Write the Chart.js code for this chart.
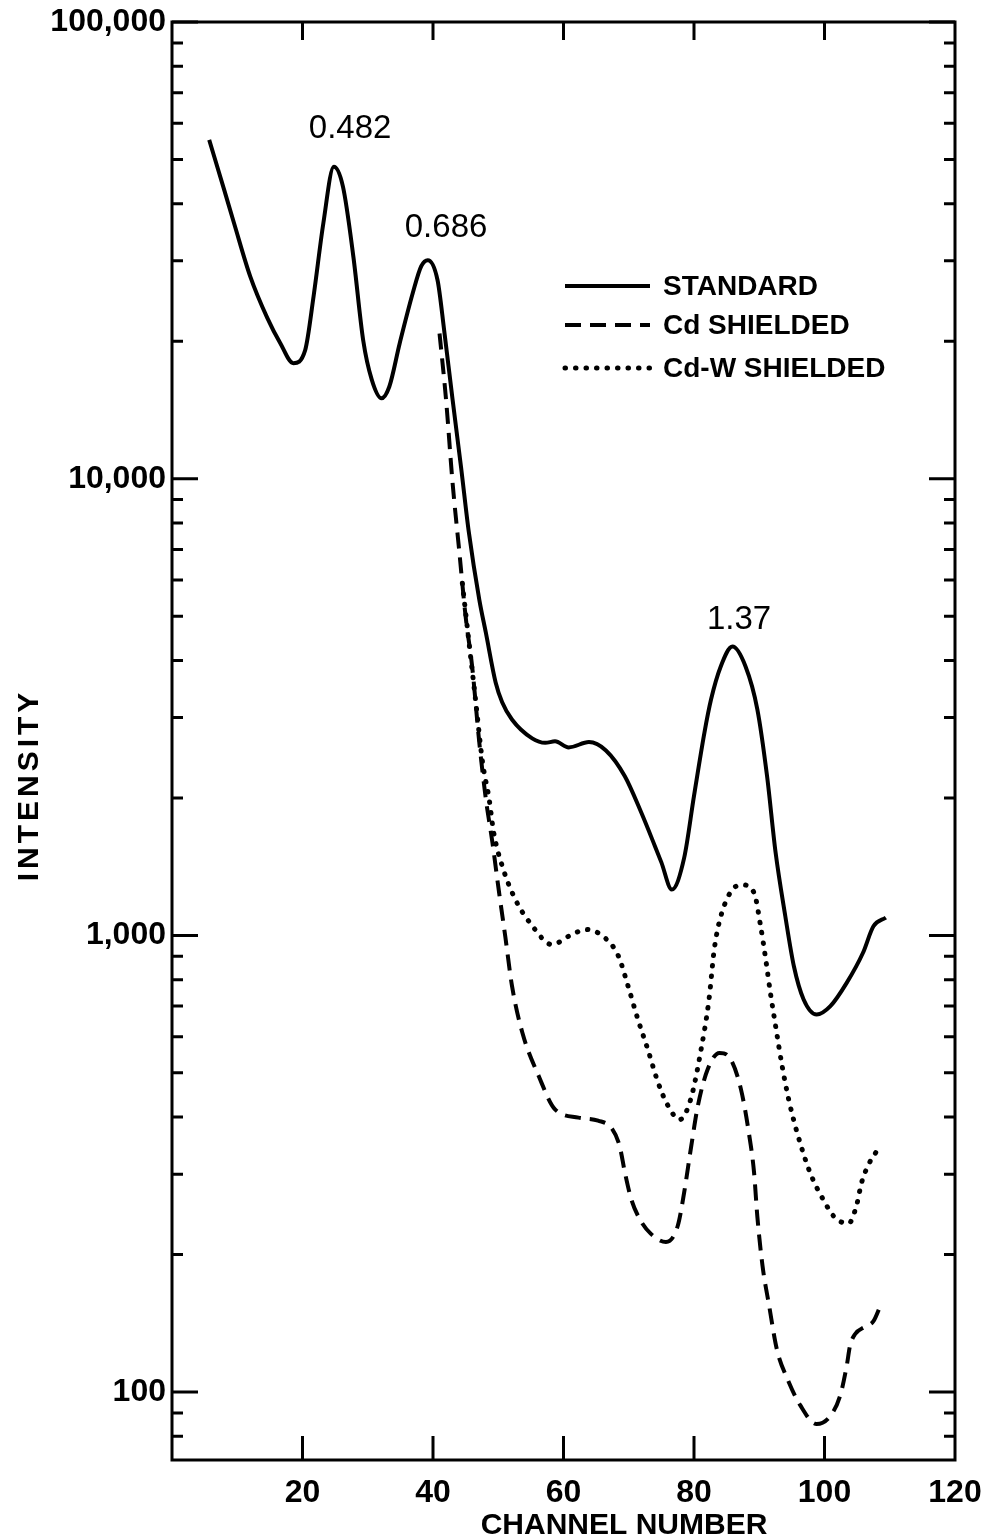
<!DOCTYPE html>
<html>
<head>
<meta charset="utf-8">
<script src="https://cdn.jsdelivr.net/npm/chart.js@4"></script>
<style>
  html, body { margin: 0; padding: 0; background: #fff; }
  #wrap { width: 985px; height: 1540px; position: relative; }
</style>
</head>
<body>
<div id="wrap"><canvas id="spectrum"></canvas></div>
<script>
// values (channel number / intensity)
const stdChannel = [5.7, 8.0, 9.5, 12.0, 14.6, 16.6, 18.6, 20.4, 21.7, 23.2, 24.8, 26.2, 27.8, 29.3, 30.6, 32.1, 33.3, 34.9, 36.9, 38.2,
  39.2, 40.7, 41.7, 43.0, 44.3, 45.5, 47.1, 48.1, 49.6, 50.6, 52.1, 55.2, 57.2, 58.7, 60.8, 63.9, 66.5, 69.4, 71.9, 74.0,
  75.0, 76.6, 78.5, 80.0, 81.6, 82.6, 84.1, 85.9, 87.9, 89.7, 91.2, 92.5, 94.0, 95.3, 96.8, 98.8, 100.9, 103.4, 105.9, 107.5, 109.4];
const stdIntensity = [55200, 42900, 36300, 27700, 22500, 19800, 17900, 19100, 25100, 36300, 48200, 43600, 30600, 20100, 16500, 15000, 15900, 19800, 25500, 29200,
  30100, 27200, 21200, 14900, 10600, 7620, 5430, 4600, 3580, 3240, 2970, 2700, 2640, 2660, 2580, 2650, 2540, 2230, 1860, 1570,
  1445, 1260, 1480, 2020, 2780, 3280, 3880, 4290, 3880, 3130, 2230, 1520, 1100, 857, 724, 671, 700, 787, 916, 1047, 1094];

const cdChannel = [41.0, 42.0, 43.0, 44.0, 45.0, 46.0, 47.1, 48.1, 49.1, 50.1, 51.1, 52.1, 53.7, 56.2, 58.7, 62.3, 65.3, 67.4, 68.6, 69.4,
  70.4, 71.7, 73.4, 75.7, 77.5, 78.5, 79.5, 80.6, 82.1, 83.9, 85.6, 87.2, 88.4, 89.2, 89.7, 90.5, 91.5, 92.7, 94.3, 96.3,
  98.8, 100.9, 102.4, 103.4, 103.9, 104.7, 106.2, 107.5, 108.6];
const cdIntensity = [20800, 14900, 9790, 7000, 4990, 3880, 2640, 1990, 1600, 1250, 989, 776, 612, 492, 416, 399, 393, 378, 346, 303,
  264, 239, 222, 213, 231, 274, 340, 424, 509, 553, 536, 460, 370, 303, 243, 189, 155, 124, 107, 93.5,
  85.1, 88.7, 98.2, 114, 126, 134, 139, 143, 155];

const cdwChannel = [44.5, 45.5, 46.5, 47.6, 48.6, 49.3, 50.6, 52.6, 55.2, 58.2, 61.3, 63.5, 66.3, 68.4, 69.9, 71.4, 72.9, 74.5, 76.0, 77.8,
  79.5, 81.1, 82.3, 83.1, 84.1, 86.4, 87.4, 89.2, 90.2, 91.0, 91.7, 92.5, 93.5, 94.5, 95.8, 97.8, 99.8, 101.6, 103.7, 104.9,
  105.7, 106.9, 108.0];
const cdwIntensity = [5900, 4400, 3300, 2390, 1990, 1680, 1420, 1200, 1050, 955, 1005, 1030, 989, 902, 774, 655, 564, 476, 424, 395,
  438, 564, 724, 931, 1100, 1280, 1290, 1240, 1050, 885, 750, 634, 518, 438, 370, 302, 264, 241, 234, 256,
  288, 318, 337];

const seriesNames = ['STANDARD', 'Cd SHIELDED', 'Cd-W SHIELDED'];

// peak energy labels (MeV)
const peakLabels = ['0.482', '0.686', '1.37'];
const peakChannel = [27.3, 42.0, 86.9];
const peakIntensity = [55700, 33900, 4680];

const xTickValues = [20, 40, 60, 80, 100, 120];
const yTickValues = [80, 90, 100, 200, 300, 400, 500, 600, 700, 800, 900,
  1000, 2000, 3000, 4000, 5000, 6000, 7000, 8000, 9000,
  10000, 20000, 30000, 40000, 50000, 60000, 70000, 80000, 90000, 100000];
const yLabelValues = [100, 1000, 10000, 100000];

const toPoints = (xs, ys) => xs.map((x, i) => ({ x: x, y: ys[i] }));

const labelFont = { family: 'Liberation Sans', size: 32, weight: 'bold' };

// axis frame + inward ticks on all four sides
const frameTicks = {
  id: 'frameTicks',
  afterDraw(chart) {
    const { ctx, chartArea: a, scales: { x, y } } = chart;
    ctx.save();
    ctx.strokeStyle = '#000';
    ctx.lineWidth = 3;
    ctx.strokeRect(a.left, a.top, a.right - a.left, a.bottom - a.top);
    ctx.beginPath();
    yTickValues.forEach(v => {
      const py = y.getPixelForValue(v);
      const len = yLabelValues.includes(v) ? 26 : 11;
      ctx.moveTo(a.left, py); ctx.lineTo(a.left + len, py);
      ctx.moveTo(a.right, py); ctx.lineTo(a.right - len, py);
    });
    xTickValues.filter(v => v < 120).forEach(v => {
      const px = x.getPixelForValue(v);
      ctx.moveTo(px, a.bottom); ctx.lineTo(px, a.bottom - 24);
      ctx.moveTo(px, a.top); ctx.lineTo(px, a.top + 18);
    });
    ctx.stroke();

    // axis titles
    ctx.fillStyle = '#000';
    ctx.font = 'bold 30px "Liberation Sans"';
    ctx.textAlign = 'center';
    ctx.textBaseline = 'alphabetic';
    ctx.fillText('CHANNEL NUMBER', 624, 1534);
    ctx.save();
    ctx.translate(38, 785);
    ctx.rotate(-Math.PI / 2);
    ctx.letterSpacing = '4px';
    ctx.fillText('INTENSITY', 0, 0);
    ctx.restore();

    // peak labels
    ctx.font = '33px "Liberation Sans"';
    peakLabels.forEach((t, i) => {
      ctx.fillText(t, x.getPixelForValue(peakChannel[i]), y.getPixelForValue(peakIntensity[i]));
    });

    // legend
    ctx.textAlign = 'left';
    ctx.textBaseline = 'middle';
    ctx.font = 'bold 28px "Liberation Sans"';
    const rows = [a.top + 264, a.top + 303, a.top + 346];
    chart.data.datasets.forEach((ds, i) => {
      ctx.save();
      ctx.lineWidth = ds.borderWidth;
      ctx.lineCap = ds.borderCapStyle || 'butt';
      ctx.setLineDash(ds.borderDash || []);
      ctx.beginPath();
      ctx.moveTo(a.left + 393, rows[i]);
      ctx.lineTo(a.left + 478, rows[i]);
      ctx.stroke();
      ctx.restore();
      ctx.fillText(seriesNames[i], a.left + 491, rows[i] + 1);
    });
    ctx.restore();
  }
};

new Chart(document.getElementById('spectrum').getContext('2d'), {
  type: 'line',
  data: {
    datasets: [{
      label: seriesNames[0],
      data: toPoints(stdChannel, stdIntensity),
      borderColor: '#000',
      borderWidth: 4,
      borderDash: [],
      pointRadius: 0,
      cubicInterpolationMode: 'monotone',
      fill: false
    }, {
      label: seriesNames[1],
      data: toPoints(cdChannel, cdIntensity),
      borderColor: '#000',
      borderWidth: 4,
      borderDash: [16, 9],
      pointRadius: 0,
      cubicInterpolationMode: 'monotone',
      fill: false
    }, {
      label: seriesNames[2],
      data: toPoints(cdwChannel, cdwIntensity),
      borderColor: '#000',
      borderWidth: 5,
      borderDash: [0.5, 10],
      borderCapStyle: 'round',
      pointRadius: 0,
      cubicInterpolationMode: 'monotone',
      fill: false
    }]
  },
  options: {
    responsive: true,
    maintainAspectRatio: false,
    animation: false,
    layout: { padding: { top: 22, right: 30, left: 0, bottom: 0 } },
    plugins: {
      legend: { display: false },
      tooltip: { enabled: false }
    },
    scales: {
      x: {
        type: 'linear',
        min: 0,
        max: 120,
        grid: { display: false, drawTicks: false },
        border: { display: false },
        afterBuildTicks: s => { s.ticks = xTickValues.map(v => ({ value: v })); },
        afterFit: s => { s.height = 80; s.paddingLeft = 0; s.paddingRight = 0; },
        ticks: {
          autoSkip: false,
          maxRotation: 0,
          padding: 14,
          color: '#000',
          font: labelFont,
          callback: v => String(v)
        }
      },
      y: {
        type: 'logarithmic',
        min: 71,
        max: 100000,
        grid: { display: false, drawTicks: false },
        border: { display: false },
        afterBuildTicks: s => { s.ticks = yTickValues.map(v => ({ value: v })); },
        afterFit: s => { s.width = 172; s.paddingTop = 0; s.paddingBottom = 0; },
        ticks: {
          autoSkip: false,
          padding: 6,
          color: '#000',
          font: labelFont,
          callback: v => yLabelValues.includes(v) ? v.toLocaleString('en-US') : ''
        }
      }
    }
  },
  plugins: [frameTicks]
});
</script>
</body>
</html>
